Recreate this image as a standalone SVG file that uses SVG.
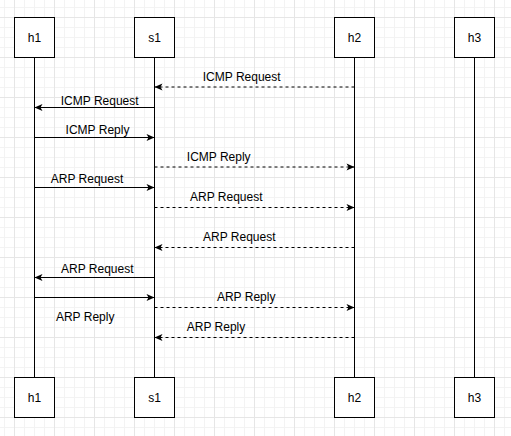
<svg xmlns="http://www.w3.org/2000/svg" width="511" height="436" viewBox="0 0 511 436">
<defs>
<pattern id="grid" x="14" y="17" width="40" height="40" patternUnits="userSpaceOnUse">
<path d="M10.5,0V40M20.5,0V40M30.5,0V40M0,10.5H40M0,20.5H40M0,30.5H40" stroke="#f3f3f3" stroke-width="1" fill="none"/>
<path d="M0.5,0V40M0,0.5H40" stroke="#e6e6e6" stroke-width="1" fill="none"/>
</pattern>
<marker id="ah" markerUnits="userSpaceOnUse" markerWidth="10" markerHeight="10" refX="8" refY="3.5" orient="auto" overflow="visible">
<path d="M0,0 L8,3.5 L0,7 L2,3.5 Z" fill="#000" stroke="none"/>
</marker>
<style>
.box{fill:#fff;stroke:#000;stroke-width:1}
.life{stroke:#000;stroke-width:1;fill:none}
.msg{stroke:#000;stroke-width:1;fill:none;marker-end:url(#ah)}
.dash{stroke-dasharray:3 3}
text{font-family:"Liberation Sans",Arial,Helvetica,sans-serif;font-size:12px;fill:#000;text-anchor:middle}
</style>
</defs>
<rect x="0" y="0" width="511" height="436" fill="#fff"/>
<rect x="0" y="0" width="511" height="436" fill="url(#grid)"/>
<g id="lifelines">
<path class="life" d="M34.5,57.5V377.5"/>
<path class="life" d="M154.5,57.5V377.5"/>
<path class="life" d="M354.5,57.5V377.5"/>
<path class="life" d="M474.5,57.5V377.5"/>
</g>
<g id="h1-top"><rect class="box" x="14.5" y="17.5" width="40" height="40"/><text x="34.5" y="41.5">h1</text></g>
<g id="s1-top"><rect class="box" x="134.5" y="17.5" width="40" height="40"/><text x="154.5" y="41.5">s1</text></g>
<g id="h2-top"><rect class="box" x="334.5" y="17.5" width="40" height="40"/><text x="354.5" y="41.5">h2</text></g>
<g id="h3-top"><rect class="box" x="454.5" y="17.5" width="40" height="40"/><text x="474.5" y="41.5">h3</text></g>
<g id="h1-bottom"><rect class="box" x="14.5" y="377.5" width="40" height="40"/><text x="34.5" y="401.5">h1</text></g>
<g id="s1-bottom"><rect class="box" x="134.5" y="377.5" width="40" height="40"/><text x="154.5" y="401.5">s1</text></g>
<g id="h2-bottom"><rect class="box" x="334.5" y="377.5" width="40" height="40"/><text x="354.5" y="401.5">h2</text></g>
<g id="h3-bottom"><rect class="box" x="454.5" y="377.5" width="40" height="40"/><text x="474.5" y="401.5">h3</text></g>
<g id="connectors">
<path class="msg dash" d="M354.5,87H154.5"/>
<path class="msg" d="M154.5,107.5H34.5"/>
<path class="msg" d="M34.5,137.5H154.5"/>
<path class="msg dash" d="M154.5,167H354.5"/>
<path class="msg" d="M34.5,187.5H154.5"/>
<path class="msg dash" d="M154.5,207.5H354.5"/>
<path class="msg dash" d="M354.5,247.5H154.5"/>
<path class="msg" d="M154.5,277.5H34.5"/>
<path class="msg" d="M34.5,297.5H154.5"/>
<path class="msg dash" d="M154.5,307.5H354.5"/>
<path class="msg dash" d="M354.5,337.5H154.5"/>
</g>
<g id="labels">
<text x="241.7" y="81">ICMP Request</text>
<text x="99.7" y="105">ICMP Request</text>
<text x="97.5" y="134.2">ICMP Reply</text>
<text x="218.7" y="161.3">ICMP Reply</text>
<text x="87" y="182.7">ARP Request</text>
<text x="226.3" y="201">ARP Request</text>
<text x="239.3" y="241">ARP Request</text>
<text x="97.3" y="272.7">ARP Request</text>
<text x="85.2" y="320.7">ARP Reply</text>
<text x="246.2" y="301">ARP Reply</text>
<text x="216" y="331">ARP Reply</text>
</g>
</svg>
